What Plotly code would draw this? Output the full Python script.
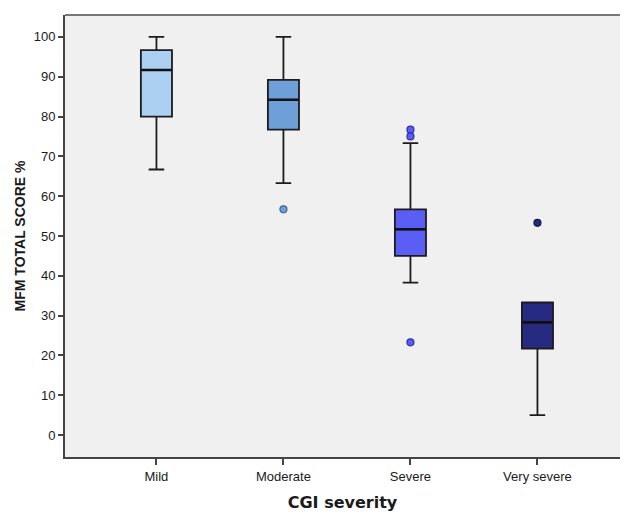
import plotly.graph_objects as go

categories = ["Mild", "Moderate", "Severe", "Very severe"]
q1 = [80.0, 76.7, 45.0, 21.7]
median = [91.7, 84.2, 51.7, 28.3]
q3 = [96.7, 89.2, 56.7, 33.3]
lower_whisker = [66.7, 63.3, 38.3, 5.0]
upper_whisker = [100.0, 100.0, 73.3, 33.3]
outliers = [[], [56.7], [76.7, 75.0, 23.3], [53.3]]
y_ticks = [0, 10, 20, 30, 40, 50, 60, 70, 80, 90, 100]

fills = ["#abd0f2", "#6f9fd8", "#5b5ef5", "#262a80"]
edges = ["#5f84ad", "#3e6496", "#2e2fa8", "#14174d"]

fig = go.Figure()
for i, cat in enumerate(categories):
    fig.add_trace(go.Box(
        x=[cat], q1=[q1[i]], median=[median[i]], q3=[q3[i]],
        lowerfence=[lower_whisker[i]], upperfence=[upper_whisker[i]],
        fillcolor=fills[i], line=dict(color="#1c1c1c", width=1.8),
        width=0.245, whiskerwidth=0.5, boxpoints=False,
        hoverinfo="skip", showlegend=False,
    ))
    # thicker median line drawn over the box
    fig.add_trace(go.Box(
        x=[cat], q1=[median[i]], median=[median[i]], q3=[median[i]],
        lowerfence=[median[i]], upperfence=[median[i]],
        fillcolor="rgba(0,0,0,0)", line=dict(color="#111111", width=2.6),
        width=0.235, whiskerwidth=0.5, boxpoints=False,
        hoverinfo="skip", showlegend=False,
    ))
    if outliers[i]:
        fig.add_trace(go.Scatter(
            x=[cat] * len(outliers[i]), y=outliers[i], mode="markers",
            marker=dict(size=7, color=fills[i], line=dict(color=edges[i], width=1.2)),
            showlegend=False, hoverinfo="skip",
        ))

fig.add_shape(type="line", xref="paper", yref="paper", x0=0, x1=1, y0=1, y1=1,
              line=dict(color="#777777", width=2))

fig.update_layout(
    width=626, height=513,
    margin=dict(l=65, r=6, t=15, b=56),
    paper_bgcolor="white", plot_bgcolor="#f0f0f0",
    font=dict(family="Liberation Sans, Arial, sans-serif", color="#1a1a1a", size=13),
    boxmode="overlay",
    xaxis=dict(
        type="category", categoryorder="array", categoryarray=categories,
        range=[-0.72, 3.65], showgrid=False, zeroline=False, automargin=False,
        showline=True, linecolor="#444444", linewidth=2,
        ticks="outside", ticklen=6, tickcolor="#444444", tickwidth=1.5,
        tickfont=dict(size=13),
        title=dict(text="<b>CGI severity</b>",
                   font=dict(size=16, family="DejaVu Sans, Verdana, sans-serif"),
                   standoff=14),
    ),
    yaxis=dict(
        range=[-5.5, 105.5], tickvals=y_ticks, showgrid=False, zeroline=False,
        automargin=False,
        showline=True, linecolor="#444444", linewidth=2,
        ticks="outside", ticklen=5, tickcolor="#444444", tickwidth=1.5,
        tickfont=dict(size=13),
        title=dict(text="<b>MFM TOTAL SCORE %</b>", font=dict(size=14), standoff=5),
    ),
)

fig.write_html("out.html", config={"displayModeBar": False},
               post_script="document.body.style.margin='0';")
